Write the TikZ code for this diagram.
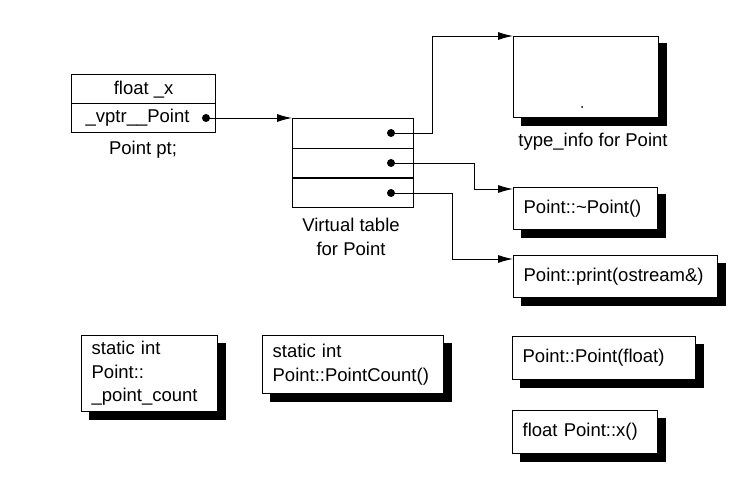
\documentclass[tikz,border=0pt]{standalone}
\usepackage{fontspec}
\setmainfont{Liberation Sans}
\usetikzlibrary{arrows.meta}
\begin{document}
\begin{tikzpicture}[x=1pt,y=-1pt,
  every node/.style={font=\fontsize{18.5}{23.5}\selectfont},
  shbox/.style={draw, line width=1.3pt, fill=white, anchor=north west, align=left,
     inner xsep=10pt, inner ysep=0pt,
     preaction={fill=black, draw=black, line width=1.3pt, transform canvas={xshift=7.5pt,yshift=-7.5pt}}},
  cell/.style={draw, line width=1.3pt, anchor=north west, inner sep=0pt},
  lbl/.style={align=center, inner sep=0pt},
  conn/.style={line width=0.9pt, -{Latex[length=15pt,width=8pt]}},
  ptr/.style={fill=black, circle, inner sep=0pt, minimum size=8pt}
]
\useasboundingbox (0,0) rectangle (744,481);

% object Point pt
\node[cell, minimum width=144pt, minimum height=29pt] (fx) at (71,74) {float \_x};
\node[cell, minimum width=144pt, minimum height=29pt, text width=116pt, inner xsep=14pt, align=left] (vp) at (71,103) {\_vptr\_\_Point};
\node[ptr] (d0) at (206,118) {};
\node[lbl] (ptlbl) at (143,150) {Point pt;};

% virtual table
\node[cell, minimum width=121pt, minimum height=29.7pt] (vt1) at (292,118) {};
\node[cell, minimum width=121pt, minimum height=29.7pt] (vt2) at (292,147.7) {};
\node[cell, minimum width=121pt, minimum height=29.6pt] (vt3) at (292,177.4) {};
\node[ptr] (d1) at (391,133) {};
\node[ptr] (d2) at (391,163) {};
\node[ptr] (d3) at (391,193) {};
\node[lbl] (vtlbl) at (351,237) {Virtual table\\for Point};

% right column
\node[shbox, minimum width=145pt, minimum height=81pt] (ti) at (513,36) {};
\fill (582,107) circle (1pt);
\node[lbl] (tilbl) at (593,142) {type\_info for Point};
\node[shbox, text width=124pt, minimum height=42pt] (dtor) at (513,187) {Point::\textasciitilde Point()};
\node[shbox, text width=184pt, minimum height=42pt] (prt) at (513,255) {Point::print(ostream\&)};
\node[shbox, text width=163pt, minimum height=43pt] (ctor) at (512,336) {Point::Point(float)};
\node[shbox, text width=125pt, minimum height=43pt] (xfn) at (512,410) {float Point::x()};

% static members
\node[shbox, text width=116pt, minimum height=76pt] (s1) at (81,335) {static int\\Point::\\\_point\_count};
\node[shbox, text width=161pt, minimum height=58pt] (s2) at (262,335) {static int\\Point::PointCount()};

% connectors
\draw[conn] (d0.center) -- (vt1.north west);
\draw[conn] (d1.center) -- (432,133) |- (ti.north west);
\draw[conn] (d2.center) -- (474,163) |- ([yshift=-2pt]dtor.north west);
\draw[conn] (d3.center) -- (452,193) |- ([yshift=-4pt]prt.north west);
\end{tikzpicture}
\end{document}
